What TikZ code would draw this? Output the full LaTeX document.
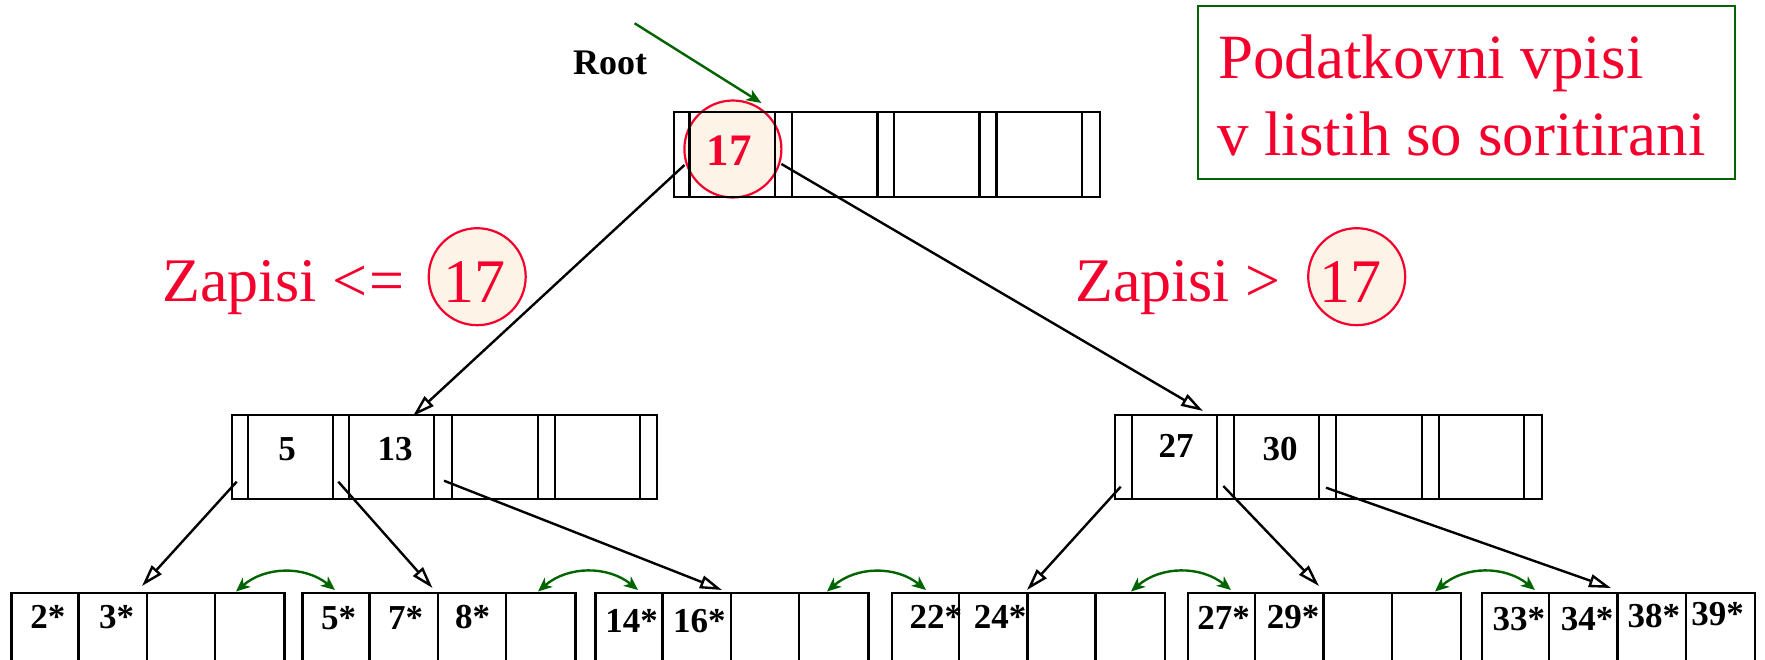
\documentclass[tikz,border=0pt]{standalone}
\usepackage{fontspec}
\setmainfont{Liberation Serif}
\usetikzlibrary{arrows.meta}
\definecolor{myred}{RGB}{245,0,45}
\definecolor{dgreen}{RGB}{0,100,0}
\definecolor{cream}{RGB}{253,243,230}
\tikzset{
  boxnode/.style={draw, line width=2.4pt, inner sep=0pt, anchor=north west},
  divider/.style={line width=2.4pt},
  keytxt/.style={font=\fontsize{35}{35}\selectfont\bfseries, inner sep=0pt, anchor=base},
  ptr/.style={line width=2.4pt, -{Triangle[open, length=22pt, width=13pt]}},
  sib/.style={draw=dgreen, line width=2.4pt, {Stealth[length=14pt,width=12pt,inset=4pt]}-{Stealth[length=14pt,width=12pt,inset=4pt]}},
  rootarrow/.style={draw=dgreen, line width=2.4pt, -{Stealth[length=15pt,width=12pt,inset=4pt]}},
  redcirc/.style={circle, draw=myred, fill=cream, line width=2.2pt, inner sep=0pt, minimum size=97pt},
  bigred/.style={font=\fontsize{62}{62}\selectfont, text=myred, inner sep=0pt},
}
\begin{document}
\begin{tikzpicture}[x=1pt,y=-1pt]
\useasboundingbox (0,0) rectangle (1765,660);
\clip (0,0) rectangle (1765,660);

% note box
\node[draw=dgreen, line width=2.4pt, minimum width=537pt, minimum height=172.7pt, inner sep=0pt, anchor=north west] (note) at (1196.6,5) {};
\node[bigred, font=\fontsize{63}{63}\selectfont, anchor=base west] (notea) at (1218,79) {Podatkovni vpisi};
\node[bigred, font=\fontsize{63}{63}\selectfont, anchor=base west] (noteb) at (1217,156) {v listih so soritirani};

% root label and arrow
\node[font=\fontsize{36}{36}\selectfont\bfseries, inner sep=0pt, anchor=base] (rootlbl) at (610,75) {Root};
\coordinate (rootA) at (634.6,23.3);
\coordinate (rootB) at (761.4,103);
\draw[rootarrow] (rootA) -- (rootB);

% root node
\node[redcirc] (rc) at (732.9,149) {};
\node[boxnode, minimum width=426pt, minimum height=85pt] (root) at (673,111) {};
\foreach \d in {16.3,102,118.8,204.5,221,306.6,323.4,409}
  \draw[divider] ([xshift=\d pt]root.north west) -- ([xshift=\d pt]root.south west);
\node[font=\fontsize{45}{45}\selectfont\bfseries, text=myred, inner sep=0pt, anchor=base] (k17) at (729.3,166) {17};

% level-2 nodes
\node[boxnode, minimum width=425pt, minimum height=84pt] (nl) at (231,414) {};
\foreach \d in {17,102,118,203,221,307,324,409}
  \draw[divider] ([xshift=\d pt]nl.north west) -- ([xshift=\d pt]nl.south west);
\node[boxnode, minimum width=427pt, minimum height=84pt] (nr) at (1114,414) {};
\foreach \d in {18,103,120,205,222,308,325,410}
  \draw[divider] ([xshift=\d pt]nr.north west) -- ([xshift=\d pt]nr.south west);
\node[keytxt] (k5) at (287,460) {5};
\node[keytxt] (k13) at (395,460) {13};
\node[keytxt] (k27) at (1176,457) {27};
\node[keytxt] (k30) at (1280,460) {30};

% leaves
\foreach \nm/\lx in {leafa/10.3,leafb/301.2,leafc/594.2,leafd/890.8,leafe/1187,leaff/1481}{
  \node[boxnode, minimum width=273pt, minimum height=120pt] (\nm) at (\lx,592) {};
  \foreach \d in {68.25,136.5,204.75}
    \draw[divider] ([xshift=\d pt]\nm.north west) -- ([xshift=\d pt]\nm.south west);
}
\foreach \nm/\x/\y/\t in {ta/47.8/628/2*, tb/116.7/628/3*, tc/338.7/629/5*, td/405.7/629/7*, te/472.6/628/8*,
  tf/631.7/632/14*, tg/699.4/632/16*, th/935.9/628/22*, ti/1000/628/24*, tj/1223.7/629/27*, tk/1293/628/29*,
  tl/1518.8/630/33*, tm/1587/630/34*, tn/1653.8/627/38*, to/1717.5/625/39*}
  \node[keytxt] (\nm) at (\x,\y) {\t};

% big labels
\node[bigred, anchor=base west] (zl) at (162,302) {Zapisi <\kern2pt=};
\node[redcirc] (cl) at (477.2,276.7) {};
\node[bigred, anchor=base] (cl17) at (474,303) {17};
\node[bigred, anchor=base west] (zr) at (1075,302) {Zapisi >};
\node[redcirc] (cr) at (1356.7,276.7) {};
\node[bigred, anchor=base] (cr17) at (1350,303) {17};

% tree pointers
\coordinate (p1s) at (684.5,165);  \coordinate (p1t) at (413,416);
\coordinate (p2s) at (781.4,164);  \coordinate (p2t) at (1203,411);
\coordinate (p3s) at (236.7,481.7); \coordinate (p3t) at (142,586);
\coordinate (p4s) at (338.3,481.7); \coordinate (p4t) at (432.5,588);
\coordinate (p5s) at (444,480.7);  \coordinate (p5t) at (722,590);
\coordinate (p6s) at (1120.7,486.7); \coordinate (p6t) at (1027,590);
\coordinate (p7s) at (1223.3,486); \coordinate (p7t) at (1319,586);
\coordinate (p8s) at (1326,487.7); \coordinate (p8t) at (1611,588);
\foreach \i in {1,...,8} \draw[ptr] (p\i s) -- (p\i t);

% sibling links
\foreach \i/\a/\b in {1/236/335,2/538/638,3/827/926,4/1131/1231,5/1435/1535}{
  \coordinate (s\i a) at (\a,591.5);
  \coordinate (s\i b) at (\b,590);
  \draw[sib] (s\i a) to[bend left=40] (s\i b);
}
\end{tikzpicture}
\end{document}
